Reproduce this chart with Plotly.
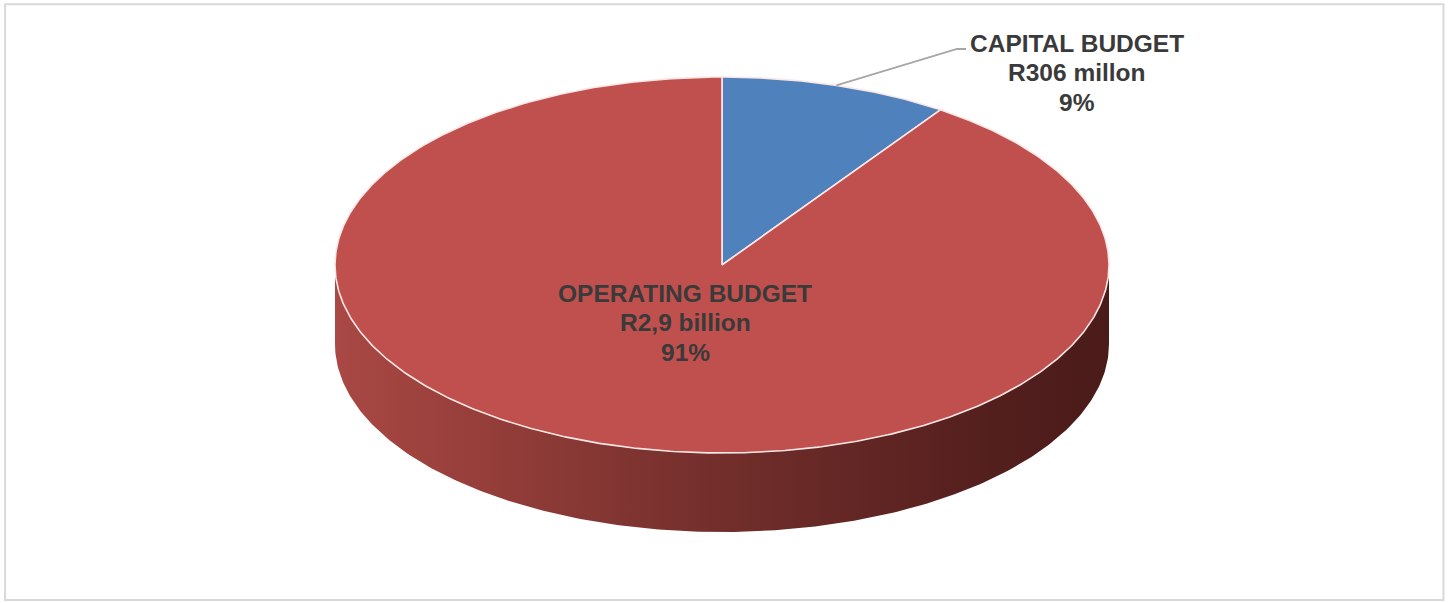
import numpy as np
import plotly.graph_objects as go

# ---- data ----
categories = ["CAPITAL BUDGET", "OPERATING BUDGET"]
values = [306, 2900]
amount_labels = ["R306 millon", "R2,9 billion"]
pct_labels = ["9%", "91%"]
colors = ["#4F81BD", "#C0504D"]

# ---- geometry (style) ----
W, H = 1450, 603
cx, cy = 722, 265      # centre of top face
rx, ry = 387, 188      # ellipse radii
depth = 79             # thickness of the pie

def pt(theta_deg, dy=0.0):
    t = np.radians(theta_deg)
    return cx + rx * np.cos(t), cy - ry * np.sin(t) + dy

total = float(sum(values))
angles = []
start = 90.0
for v in values:
    sweep = 360.0 * v / total
    angles.append((start, start - sweep))
    start -= sweep

fig = go.Figure()

# side wall (front half of the cylinder)
t_side = np.linspace(180, 360, 240)
xs_top, ys_top = pt(t_side)
xs_bot, ys_bot = pt(t_side[::-1], depth)
side_x = np.concatenate([xs_top, xs_bot, xs_top[:1]])
side_y = np.concatenate([ys_top, ys_bot, ys_top[:1]])
fig.add_trace(go.Scatter(
    x=side_x, y=side_y, mode="lines", fill="toself",
    line=dict(color="rgba(0,0,0,0)", width=0),
    fillgradient=dict(type="horizontal",
                      colorscale=[[0, "#a94844"], [0.15, "#9a403c"], [0.5, "#722e2b"],
                                  [0.85, "#531f1d"], [1, "#4a1b19"]]),
    hoverinfo="skip", showlegend=False))

# top faces
for name, (a0, a1), col in zip(categories, angles, colors):
    th = np.linspace(a0, a1, max(20, int(abs(a0 - a1) * 2)))
    ax_, ay_ = pt(th)
    px = np.concatenate([[cx], ax_, [cx]])
    py = np.concatenate([[cy], ay_, [cy]])
    fig.add_trace(go.Scatter(
        x=px, y=py, mode="lines", fill="toself", fillcolor=col,
        line=dict(color="#fbe7e6", width=1.6), name=name,
        hoverinfo="name", showlegend=False))

# labels
txt_font = dict(family="Liberation Sans, Arial, sans-serif", size=24.5, color="#3a3a3a")
line_gap = 29.5

def add_label(x, y_first, lines):
    for i, s in enumerate(lines):
        fig.add_annotation(x=x, y=y_first + i * line_gap, xref="x", yref="y",
                           showarrow=False, text=f"<b>{s}</b>", font=txt_font,
                           align="center")

# capital budget: leader line from slice mid-angle to label
a0, a1 = angles[0]
mx, my = pt((a0 + a1) / 2)
fig.add_trace(go.Scatter(
    x=[mx, 957, 966], y=[my, 49, 49], mode="lines",
    line=dict(color="#a6a6a6", width=1.8), hoverinfo="skip", showlegend=False))
add_label(1077, 43, [categories[0], amount_labels[0], pct_labels[0]])
add_label(685, 293, [categories[1], amount_labels[1], pct_labels[1]])

# chart border
fig.add_shape(type="rect", xref="paper", yref="paper", x0=0.0035, x1=0.9955, y0=0.005, y1=0.993,
              line=dict(color="#d9d9d9", width=2), fillcolor="rgba(0,0,0,0)")

fig.update_layout(
    width=W, height=H, margin=dict(l=0, r=0, t=0, b=0),
    paper_bgcolor="white", plot_bgcolor="white",
    xaxis=dict(range=[0, W], visible=False, fixedrange=True),
    yaxis=dict(range=[H, 0], visible=False, fixedrange=True),
    showlegend=False,
)

fig.write_html("out.html")
